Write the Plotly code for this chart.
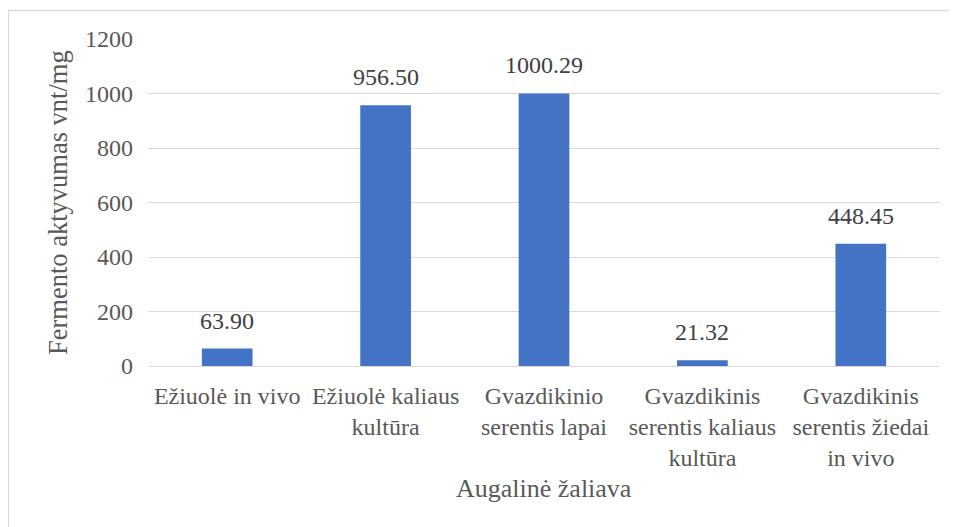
import plotly.graph_objects as go

categories = ["Ežiuolė in vivo", "Ežiuolė kaliaus<br>kultūra", "Gvazdikinio<br>serentis lapai",
              "Gvazdikinis<br>serentis kaliaus<br>kultūra", "Gvazdikinis<br>serentis žiedai<br>in vivo"]
values = [63.90, 956.50, 1000.29, 21.32, 448.45]
labels = ["63.90", "956.50", "1000.29", "21.32", "448.45"]
y_ticks = [0, 200, 400, 600, 800, 1000, 1200]

FONT = "Liberation Serif, DejaVu Serif, serif"
TXT = "#595959"

OFF = 8  # page body margin
W, H = 957 - OFF, 527 - OFF
L, R, T, B = 148 - OFF, 17, 39 - OFF, 161
pw, ph = W - L - R, H - T - B

def px(x):
    return (x - OFF - L) / pw

def py(y):
    return (H - B - (y - OFF)) / ph

fig = go.Figure()
fig.add_trace(go.Bar(x=categories, y=values, marker=dict(color="#4472C4", line=dict(width=0)),
                     hoverinfo="skip"))

annotations = []
for c, v, t in zip(categories, values, labels):
    annotations.append(dict(x=c, y=v, xref="x", yref="y", text=t, showarrow=False,
                            yanchor="bottom", yshift=13,
                            font=dict(family=FONT, size=24, color="#404040")))
annotations.append(dict(x=px(544), y=py(488), xref="paper", yref="paper", text="Augalinė žaliava",
                        showarrow=False, xanchor="center", yanchor="middle",
                        font=dict(family=FONT, size=26, color=TXT)))
annotations.append(dict(x=px(58), y=py(203), xref="paper", yref="paper",
                        text="Fermento aktyvumas vnt/mg", textangle=-90,
                        showarrow=False, xanchor="center", yanchor="middle",
                        font=dict(family=FONT, size=26.5, color=TXT)))

fig.update_layout(
    width=W, height=H,
    margin=dict(l=L, r=R, t=T, b=B, autoexpand=False),
    paper_bgcolor="white", plot_bgcolor="white",
    bargap=0.68,
    showlegend=False,
    font=dict(family=FONT, color=TXT),
    annotations=annotations,
    shapes=[dict(type="rect", xref="paper", yref="paper",
                 x0=px(8.5), x1=px(975), y0=py(545), y1=py(10.5),
                 line=dict(color="#d9d9d9", width=1.3), layer="below")],
    xaxis=dict(showgrid=False, showline=True, linecolor="#d9d9d9", linewidth=1.3,
               tickangle=0, ticklabelstandoff=8, automargin=False,
               tickfont=dict(family=FONT, size=24, color=TXT), ticks=""),
    yaxis=dict(range=[0, 1200], tickvals=y_ticks, showgrid=True, gridcolor="#d9d9d9", gridwidth=1.3,
               zeroline=False, showline=False, ticks="", ticklabelstandoff=14, automargin=False,
               tickfont=dict(family=FONT, size=24, color=TXT)),
)

fig.write_html("out.html")
